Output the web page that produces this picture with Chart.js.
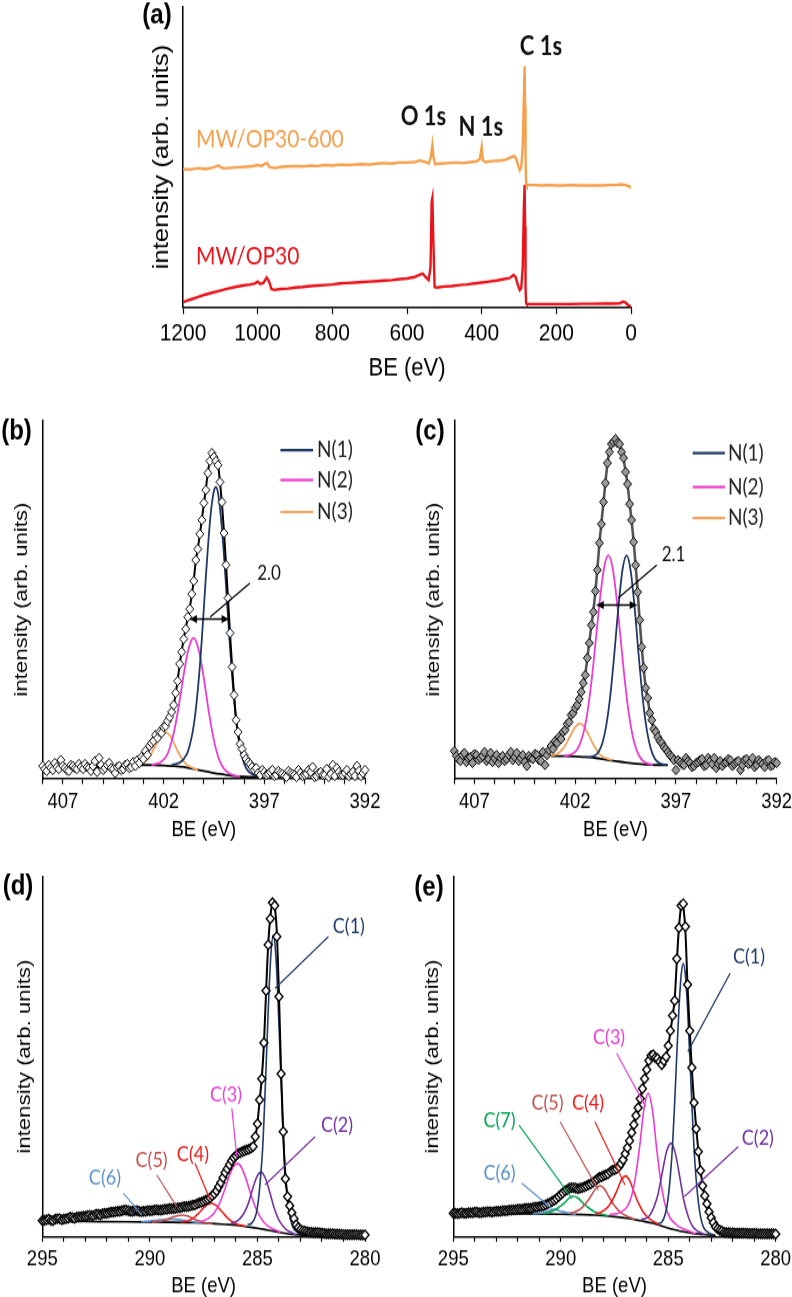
<!DOCTYPE html>
<html>
<head>
<meta charset="utf-8">
<script src="https://cdn.jsdelivr.net/npm/chart.js@4"></script>
<style>
  html, body { margin: 0; padding: 0; background: #fff; overflow: hidden; width: 792px; height: 1297px; }
  .panel { position: absolute; transform-origin: 0 0; transform: scaleY(1.17); }
  canvas { display: block; }
</style>
</head>
<body>
<div class="panel" style="left:0;top:0"><canvas id="ca" width="792" height="335"></canvas></div>
<div class="panel" style="left:0;top:395px"><canvas id="cb" width="396" height="390"></canvas></div>
<div class="panel" style="left:396px;top:395px"><canvas id="cc" width="396" height="390"></canvas></div>
<div class="panel" style="left:0;top:850px"><canvas id="cd" width="396" height="400"></canvas></div>
<div class="panel" style="left:396px;top:850px"><canvas id="ce" width="396" height="400"></canvas></div>
<script>
// ---- (a) survey spectra: [BE eV, intensity] ----
const surveyOP30_600 = [[1200,138],[1180,137.5],[1160,139],[1140,138],[1120,139.5],[1105,141.5],[1095,139],[1080,139],[1060,139.5],[1040,140],[1020,140.5],[1000,142],[990,141],[980,143.5],[975,144],[968,140],[955,139],[940,140],[920,140.5],[900,141],[880,140.5],[860,141.5],[840,141],[820,142],[800,141.5],[780,142.5],[760,142],[740,142.5],[720,143],[700,142.5],[680,143.5],[660,144],[640,143.5],[620,144.5],[600,144.5],[580,145],[565,146.5],[550,145],[542,143.5],[536,150],[532,162],[529,150],[525,143],[510,143.5],[490,144],[470,144.5],[450,144],[430,145],[415,145.5],[405,148],[400,160],[397,147],[390,145],[370,146],[350,146.5],[335,147.5],[320,150],[313,151],[307,148],[302,141],[298,137],[294,140],[290,160],[287,210],[285,241],[283.5,200],[282.5,150],[281,124],[279,122],[260,122],[240,121.5],[220,122],[200,121.5],[180,121.5],[160,122],[140,121.5],[120,121.5],[100,121.5],[80,121.5],[60,122],[40,122],[25,122.7],[15,122],[5,120.5],[0,119.7]];
const surveyOP30 = [[1200,5],[1180,7.5],[1160,10],[1140,12.5],[1120,14.5],[1100,16.5],[1080,18.5],[1060,20],[1040,21.5],[1020,22.5],[1008,23.5],[1000,25.5],[993,23],[985,24],[976,29.5],[970,26],[963,18],[955,17],[940,18],[920,18.5],[900,19.5],[880,20],[860,21],[840,21.5],[820,22],[800,22.5],[780,23.5],[760,24],[740,24.5],[720,25],[700,25.5],[680,26],[660,26.5],[640,27],[620,28],[600,28.5],[580,30],[565,32.5],[558,33.5],[550,30],[542,27],[537,40],[534,105],[532,109],[529,60],[526,20],[520,19.5],[500,20.5],[480,21],[460,22],[440,22.5],[420,23.5],[400,24.5],[380,25.5],[360,26.5],[340,28],[325,29],[315,32],[309,30],[303,22],[298,17],[294,19],[290,40],[287,100],[285,122],[283.5,80],[282.5,20],[281,4],[279,3],[250,3],[220,3],[190,3],[160,3],[130,3.2],[100,3.2],[70,3.4],[50,3.4],[30,3.6],[22,5.5],[15,4.5],[8,2],[3,1],[0,0.5]];
const surveyTicks = [0, 200, 400, 600, 800, 1000, 1200];

// ---- (b) N 1s, MW/OP30 ----
const n1sB_pts = [[408,13],[407.9,10],[407.8,8],[407.7,14],[407.6,11],[407.5,9],[407.4,16],[407.3,12],[407.2,10],[407.1,19],[407,13],[406.9,11],[406.8,9],[406.7,8],[406.6,14],[406.5,13],[406.4,11],[406.3,10],[406.2,15],[406.1,12],[406,10],[405.9,15],[405.8,12],[405.7,11],[405.6,8],[405.5,13],[405.4,18],[405.3,7],[405.2,21],[405.1,14],[405,9],[404.9,11],[404.8,14],[404.7,16],[404.6,11],[404.5,10],[404.4,6],[404.3,12],[404.2,13],[404.1,9],[404,10],[403.9,14],[403.8,15],[403.7,11],[403.6,12],[403.5,17],[403.4,13],[403.3,19],[403.2,16],[403.1,22],[403,20],[402.9,28],[402.8,24],[402.7,33],[402.6,36],[402.5,38],[402.4,44],[402.3,41],[402.2,47],[402.1,46],[402,52],[401.9,53],[401.8,58],[401.7,62],[401.6,67],[401.5,74],[401.4,86],[401.3,98],[401.2,115],[401.1,127],[401,140],[400.9,150],[400.8,162],[400.7,170],[400.6,185],[400.5,198],[400.4,219],[400.3,230],[400.2,245],[400.1,259],[400,276],[399.9,289],[399.8,306],[399.7,318],[399.6,326],[399.5,322],[399.4,318],[399.3,314],[399.2,297],[399.1,277],[399,246],[398.9,214],[398.8,181],[398.7,146],[398.6,112],[398.5,84],[398.4,59],[398.3,47],[398.2,35],[398.1,30],[398,24],[397.9,20],[397.8,17],[397.7,15],[397.6,12],[397.5,9],[397.4,11],[397.3,6],[397.2,4],[397.1,9],[397,7],[396.9,4],[396.8,5],[396.7,7],[396.6,9],[396.5,3],[396.4,4],[396.3,8],[396.2,6],[396.1,5],[396,3],[395.9,2],[395.8,8],[395.7,6],[395.6,5],[395.5,4],[395.4,2],[395.3,9],[395.2,6],[395.1,3],[395,4],[394.9,5],[394.8,9],[394.7,7],[394.6,12],[394.5,2],[394.4,3],[394.3,6],[394.2,7],[394.1,4],[394,4],[393.9,10],[393.8,2],[393.7,5],[393.6,14],[393.5,3],[393.4,11],[393.3,7],[393.2,4],[393.1,4],[393,6],[392.9,9],[392.8,3],[392.7,5],[392.6,7],[392.5,3],[392.4,13],[392.3,8],[392.2,3],[392.1,6],[392,9]];
const n1sB_fit = [[408,12],[406,12],[404,12.5],[403.5,14],[403.2,17],[403,20],[402.8,27],[402.6,35],[402.4,42],[402.2,46],[402,50],[401.8,57],[401.6,64],[401.5,73],[401.4,85],[401.3,99],[401.2,114],[401.1,128],[401,140],[400.9,151],[400.8,161],[400.7,171],[400.6,184],[400.5,199],[400.4,218],[400.3,231],[400.2,244],[400.1,260],[400,275],[399.9,290],[399.8,307],[399.7,318],[399.6,325],[399.5,324],[399.4,320],[399.3,315],[399.2,297],[399.1,275],[399,247],[398.9,215],[398.8,180],[398.7,145],[398.6,113],[398.5,84],[398.4,60],[398.3,45],[398.2,36],[398,25],[397.8,18],[397.6,13],[397.4,10],[397.2,8],[397,6],[396.5,5],[396,4.5],[395,4],[394,4],[393,4],[392,4]];
const n1sB_N1 = [[401.6,14],[401.4,15],[401.2,16.5],[401,20],[400.8,27],[400.6,42.5],[400.5,54],[400.4,69.5],[400.3,89],[400.2,112.5],[400.1,140],[400,171],[399.9,202.5],[399.8,231],[399.7,256.7],[399.6,276],[399.5,288],[399.41,292],[399.3,286.6],[399.2,271],[399.1,250],[399,223.5],[398.9,193],[398.8,162],[398.7,131.6],[398.6,104],[398.5,80],[398.4,60],[398.2,30.5],[398,15.3],[397.8,8],[397.6,5],[397.4,3],[397.2,2]];
const n1sB_N2 = [[402.6,14.3],[402.4,15],[402.2,16.3],[402,19.3],[401.8,25.3],[401.6,37.4],[401.4,55.3],[401.2,78.6],[401,104.6],[400.8,126.5],[400.6,139.5],[400.5,141],[400.4,138.5],[400.2,124],[400,100.6],[399.8,73.3],[399.6,48.9],[399.4,30.2],[399.2,17.3],[399,10.3],[398.8,6.4],[398.6,4.3],[398.4,3.1],[398.2,2.5]];
const n1sB_N3 = [[403.3,14.5],[403.1,15.5],[402.9,17.8],[402.7,22.3],[402.5,29.3],[402.3,37.5],[402.1,44.4],[401.9,47],[401.7,44],[401.5,36.7],[401.3,28],[401.1,20.6],[400.9,15.3],[400.7,12.5],[400.5,10.5],[400.3,9]];
const n1sB_bg = [[403.2,14],[402.5,14],[402,13.5],[401.5,13],[401,12],[400.5,10],[400,8],[399.5,6],[399,4.5],[398.5,3],[398,2.3],[397.5,2],[397.1,2]];

// ---- (c) N 1s, MW/OP30-600 ----
const n1sC_pts = [[408,28],[407.9,23],[407.8,20],[407.7,18],[407.6,24],[407.5,26],[407.4,17],[407.3,21],[407.2,22],[407.1,16],[407,25],[406.9,24],[406.8,19],[406.7,21],[406.6,23],[406.5,27],[406.4,18],[406.3,20],[406.2,26],[406.1,17],[406,21],[405.9,24],[405.8,16],[405.7,21],[405.6,23],[405.5,18],[405.4,20],[405.3,24],[405.2,27],[405.1,19],[405,22],[404.9,26],[404.8,18],[404.7,21],[404.6,24],[404.5,17],[404.4,13],[404.3,23],[404.2,21],[404.1,20],[404,25],[403.9,24],[403.8,19],[403.7,18],[403.6,27],[403.5,14],[403.4,24],[403.3,29],[403.2,33],[403.1,30],[403,38],[402.9,36],[402.8,42],[402.7,40],[402.6,47],[402.5,49],[402.4,55],[402.3,57],[402.2,64],[402.1,66],[402,71],[401.9,74],[401.8,80],[401.7,87],[401.6,96],[401.5,104],[401.4,121],[401.3,136],[401.2,154],[401.1,167],[401,188],[400.9,209],[400.8,236],[400.7,255],[400.6,277],[400.5,296],[400.4,316],[400.3,327],[400.2,335],[400.1,337],[400,340],[399.9,336],[399.8,335],[399.7,327],[399.6,321],[399.5,307],[399.4,295],[399.3,275],[399.2,259],[399.1,237],[399,214],[398.9,187],[398.8,159],[398.7,132],[398.6,111],[398.5,91],[398.4,81],[398.3,66],[398.2,59],[398.1,50],[398,47],[397.9,42],[397.8,38],[397.7,36],[397.6,32],[397.5,30],[397.4,27],[397.3,24],[397.2,22],[397.1,19],[397,9],[396.9,19],[396.8,17],[396.7,15],[396.6,14],[396.5,21],[396.4,18],[396.3,16],[396.2,12],[396.1,13],[396,16],[395.9,17],[395.8,19],[395.7,20],[395.6,13],[395.5,14],[395.4,21],[395.3,18],[395.2,15],[395.1,21],[395,11],[394.9,15],[394.8,18],[394.7,13],[394.6,16],[394.5,17],[394.4,20],[394.3,19],[394.2,13],[394.1,15],[394,17],[393.9,18],[393.8,9],[393.7,14],[393.6,19],[393.5,20],[393.4,15],[393.3,17],[393.2,21],[393.1,12],[393,14],[392.9,19],[392.8,17],[392.7,15],[392.6,12],[392.5,18],[392.4,19],[392.3,13],[392.2,14],[392.1,17],[392,16]];
const n1sC_fit = [[408,22],[406,22],[404,23],[403.6,24],[403.4,27],[403.2,32],[403,37],[402.8,41],[402.6,46],[402.4,54],[402.2,63],[402,70],[401.8,79],[401.7,86],[401.6,95],[401.5,105],[401.4,120],[401.3,137],[401.2,153],[401.1,168],[401,187],[400.9,210],[400.8,235],[400.7,256],[400.6,276],[400.5,297],[400.4,315],[400.3,328],[400.2,334],[400.1,338],[400,339],[399.9,338],[399.8,334],[399.7,328],[399.6,320],[399.5,308],[399.4,294],[399.3,276],[399.2,258],[399.1,238],[399,213],[398.9,188],[398.8,158],[398.7,133],[398.6,110],[398.5,92],[398.4,80],[398.3,67],[398.2,58],[398.1,51],[398,46],[397.8,39],[397.6,33],[397.4,28],[397.2,23],[397,19],[396.5,16],[396,15],[394,15],[392,15]];
const n1sC_N1 = [[401.45,22],[401.25,22.1],[401.05,23.2],[400.85,26.8],[400.65,36],[400.45,54.5],[400.25,85],[400.05,127],[399.85,173],[399.65,209.7],[399.45,223.5],[399.25,208.7],[399.05,171.2],[398.85,124],[398.65,80.7],[398.45,49.5],[398.25,30.3],[398.05,20.3],[397.85,16.2],[397.65,14.6],[397.45,14]];
const n1sC_N2 = [[402.55,23.2],[402.35,23.8],[402.15,25],[401.95,28.3],[401.75,35.8],[401.55,49.5],[401.35,72.5],[401.15,105],[400.95,144.8],[400.75,183.7],[400.55,213],[400.35,223.5],[400.15,212],[399.95,181.4],[399.75,141.3],[399.55,100.8],[399.35,67],[399.15,43.3],[398.95,28.8],[398.75,20.8],[398.55,16.8],[398.35,15.2],[398.15,14.2]];
const n1sC_N3 = [[403.36,23.2],[403.16,23.6],[402.96,24.6],[402.76,27.1],[402.56,31.7],[402.36,38.6],[402.16,46.5],[401.96,52.9],[401.76,55.3],[401.56,52.4],[401.36,45.4],[401.16,36.9],[400.96,29.7],[400.76,24.4],[400.56,21.6],[400.36,20.1],[400.16,19]];
const n1sC_bg = [[403.2,23],[402.5,23],[402,22.5],[401.5,22],[401,21],[400.5,19.5],[400,18],[399.5,16.5],[399,15.3],[398.5,14.5],[398,14],[397.4,14]];

// ---- (d) C 1s, MW/OP30 ----
const c1sD_pts = [[295,16],[294.9,16.5],[294.8,17],[294.7,17.5],[294.6,16.5],[294.5,16],[294.4,17.5],[294.3,18],[294.2,18],[294.1,17],[294,17.5],[293.9,18],[293.8,18.5],[293.7,19.5],[293.6,19],[293.5,18.5],[293.4,19.5],[293.3,20],[293.2,20],[293.1,20.5],[293,20.5],[292.9,21],[292.8,21.5],[292.7,21],[292.6,21.5],[292.5,22.5],[292.4,22.5],[292.3,22],[292.2,23],[292.1,23.5],[292,23.5],[291.9,24],[291.8,24.5],[291.7,24.5],[291.6,25],[291.5,25.5],[291.4,25.5],[291.3,26],[291.2,26.5],[291.1,26.5],[291,26],[290.9,25.5],[290.8,25.5],[290.7,26],[290.6,26],[290.5,25.5],[290.4,25],[290.3,25.5],[290.2,25.5],[290.1,26],[290,26],[289.9,26],[289.8,26.5],[289.7,27],[289.6,26.5],[289.5,26.5],[289.4,27],[289.3,27.5],[289.2,27.5],[289.1,28],[289,28],[288.9,28],[288.8,28.5],[288.7,29],[288.6,29],[288.5,29.5],[288.4,30],[288.3,30],[288.2,30.5],[288.1,31],[288,31.5],[287.9,32],[287.8,33],[287.7,34],[287.6,34.5],[287.5,35.5],[287.4,36.5],[287.3,37.5],[287.2,39],[287.1,41],[287,43],[286.9,46],[286.8,50],[286.7,54],[286.6,59],[286.5,64],[286.4,68],[286.3,72],[286.2,76],[286.1,79],[286,81],[285.9,83],[285.8,84],[285.7,85],[285.6,86],[285.5,87],[285.4,87.5],[285.3,88.5],[285.2,90],[285.1,100],[285,113],[284.9,137],[284.8,158],[284.7,194],[284.6,246],[284.5,292],[284.4,318],[284.3,334],[284.2,331],[284.1,300],[284,240],[283.9,163],[283.8,105],[283.7,58],[283.6,40],[283.5,31],[283.4,24],[283.3,18],[283.2,12],[283.1,9],[283,7],[282.9,6],[282.8,5.5],[282.7,5],[282.6,4.5],[282.5,4.5],[282.4,4],[282.3,4],[282.2,4],[282.1,3.8],[282,3.5],[281.9,3.3],[281.8,3],[281.7,3],[281.6,3],[281.5,2.8],[281.4,2.5],[281.3,2.5],[281.2,2.5],[281.1,2.3],[281,2.2],[280.9,2.1],[280.8,2],[280.7,2],[280.6,2],[280.5,2],[280.4,2],[280.3,1.9],[280.2,1.8],[280.1,1.8],[280,1.8]];
const c1sD_fit = [[295,16],[294.5,17],[294,17.8],[293.5,19.2],[293,20.5],[292.5,22],[292,23.5],[291.5,25],[291,26],[290.5,25.5],[290,26],[289.5,26.8],[289,28],[288.5,29.5],[288,31.5],[287.7,34],[287.4,36.5],[287.2,39],[287,43],[286.8,50],[286.6,59],[286.4,68],[286.2,76],[286,81],[285.8,84],[285.6,86],[285.4,87.5],[285.2,90],[285.1,100],[285,113],[284.9,136],[284.8,158],[284.7,192],[284.6,244],[284.5,292],[284.4,320],[284.3,334],[284.2,330],[284.1,305],[284,243],[283.9,165],[283.8,103],[283.7,58],[283.6,41],[283.5,31],[283.4,24],[283.3,17.5],[283.2,12],[283,7],[282.8,5],[282.5,4.2],[282,3.5],[281.5,2.8],[281,2.3],[280.5,2],[280,1.8]];
const c1sD_C1 = [[285.46,12],[285.26,13.6],[285.06,22.7],[284.96,35.7],[284.86,58],[284.76,87.5],[284.66,135.5],[284.56,191.6],[284.46,246.4],[284.36,286.8],[284.26,301.5],[284.16,286.2],[284.06,245.3],[283.96,189.8],[283.86,133],[283.76,84.3],[283.66,54.1],[283.56,31.2],[283.46,17.6],[283.36,10],[283.26,6.4],[283.06,3.3],[282.86,1.6]];
const c1sD_C2 = [[286.23,13.3],[286.03,14.5],[285.83,17.7],[285.63,23.4],[285.43,32.9],[285.23,47.3],[285.03,59.8],[284.83,64.5],[284.63,58.5],[284.43,44.8],[284.23,29.2],[284.03,18.1],[283.83,11.1],[283.63,6.5],[283.43,4.3],[283.23,2.1]];
const c1sD_C3 = [[287.73,15],[287.53,15.9],[287.33,17.7],[287.13,20.8],[286.93,26.5],[286.73,35],[286.53,46.5],[286.33,59.6],[286.13,69.7],[285.93,73.3],[285.73,68.8],[285.53,57.8],[285.33,43.8],[285.13,31.5],[284.93,22],[284.73,15.2],[284.53,11],[284.33,8.2],[284.13,6.3],[283.93,4.3]];
const c1sD_C4 = [[288.53,14.7],[288.33,15.3],[288.13,16.8],[287.93,19.5],[287.73,23.5],[287.53,28.2],[287.33,32],[287.13,33.4],[286.93,31.5],[286.73,27.2],[286.53,22.1],[286.33,17.6],[286.13,14.4],[285.93,12.4],[285.73,11.3],[285.53,10.2]];
const c1sD_C5 = [[289.9,14.7],[289.7,15],[289.5,15.5],[289.3,16.6],[289.1,18],[288.9,19.8],[288.7,21.1],[288.5,21.7],[288.3,21],[288.1,19.4],[287.9,17.4],[287.7,15.7],[287.5,14.4],[287.3,13.6],[287.1,13]];
const c1sD_C6 = [[290.4,14.9],[290,15.7],[289.6,16.7],[289.3,17.3],[289,17.5],[288.7,17.1],[288.4,16.3],[288,15],[287.6,13.7]];
const c1sD_bg = [[295,15.5],[293,15.2],[291,14.9],[289,14.5],[288,14],[287,13],[286.5,12.3],[286,11.5],[285.5,10],[285,8.5],[284.5,6.5],[284,4.5],[283.5,2.7],[283.2,2],[283,1.7],[282.7,1.5]];

// ---- (e) C 1s, MW/OP30-600 ----
const c1sE_pts = [[295,23.5],[294.9,23.5],[294.8,23],[294.7,23.5],[294.6,24],[294.5,23.5],[294.4,23.5],[294.3,24],[294.2,24],[294.1,24],[294,24.5],[293.9,24.5],[293.8,24],[293.7,24],[293.6,24.5],[293.5,24.5],[293.4,25],[293.3,25],[293.2,24.5],[293.1,25],[293,25.5],[292.9,25.5],[292.8,25.5],[292.7,26],[292.6,26],[292.5,26],[292.4,26.5],[292.3,26.5],[292.2,27],[292.1,27],[292,27.5],[291.9,27.5],[291.8,27.5],[291.7,28],[291.6,28.5],[291.5,28.5],[291.4,28.5],[291.3,29],[291.2,29.5],[291.1,29.5],[291,30],[290.9,30.5],[290.8,31],[290.7,32],[290.6,33],[290.5,34],[290.4,35.5],[290.3,36.5],[290.2,38],[290.1,40],[290,42],[289.9,44],[289.8,46],[289.7,47],[289.6,48.5],[289.5,49],[289.4,49],[289.3,48.5],[289.2,48],[289.1,48.5],[289,49],[288.9,50],[288.8,51],[288.7,52],[288.6,53],[288.5,54.5],[288.4,56],[288.3,58],[288.2,59.5],[288.1,60],[288,61],[287.9,62],[287.8,63],[287.7,65],[287.6,66.5],[287.5,67],[287.4,68],[287.3,70],[287.2,73],[287.1,77],[287,83],[286.9,89],[286.8,96],[286.7,104],[286.6,112],[286.5,121],[286.4,129],[286.3,138],[286.2,148],[286.1,158],[286,167],[285.9,176],[285.8,181],[285.7,182],[285.6,179],[285.5,178],[285.4,175],[285.3,172],[285.2,176],[285.1,180],[285,191],[284.9,206],[284.8,221],[284.7,236],[284.6,278],[284.5,309],[284.4,331],[284.3,333],[284.2,310],[284.1,252],[284,206],[283.9,169],[283.8,134],[283.7,108],[283.6,85],[283.5,66],[283.4,51],[283.3,41],[283.2,33],[283.1,25],[283,19],[282.9,14],[282.8,10],[282.7,8],[282.6,6.5],[282.5,5.5],[282.4,4.5],[282.3,4.2],[282.2,4],[282.1,3.9],[282,3.8],[281.9,3.6],[281.8,3.5],[281.7,3.5],[281.6,3.5],[281.5,3.4],[281.4,3.4],[281.3,3.3],[281.2,3.3],[281.1,3.2],[281,3.2],[280.9,3.1],[280.8,3],[280.7,3],[280.6,3],[280.5,3],[280.4,2.9],[280.3,2.8],[280.2,2.8],[280.1,2.8],[280,2.7]];
const c1sE_fit = [[295,23.5],[294.5,23.8],[294,24],[293.5,24.5],[293,25],[292.5,26],[292,27.2],[291.5,28.4],[291,29.8],[290.7,32],[290.4,35],[290.2,38],[290,42],[289.8,45.5],[289.6,48],[289.4,49],[289.2,48.5],[289,49],[288.8,50.5],[288.6,53],[288.4,56.5],[288.2,59],[288,61],[287.8,63.5],[287.6,66],[287.4,68.5],[287.2,73],[287,83],[286.8,96],[286.6,112],[286.4,129],[286.2,148],[286,167],[285.9,176],[285.8,180],[285.7,181],[285.6,180],[285.5,178],[285.4,175],[285.3,173],[285.2,175],[285.1,180],[285,190],[284.9,205],[284.8,220],[284.7,238],[284.6,275],[284.5,310],[284.4,330],[284.35,333],[284.3,330],[284.2,305],[284.1,250],[284,207],[283.9,167],[283.8,135],[283.7,110],[283.6,86],[283.5,67],[283.4,52],[283.3,41],[283.2,32],[283.1,25],[283,19],[282.9,13.5],[282.8,9.5],[282.7,7],[282.5,5],[282.2,4],[281.8,3.6],[281.4,3.4],[281,3.2],[280.5,3],[280,2.7]];
const c1sE_C1 = [[285.5,12.9],[285.3,14.7],[285.1,26],[285,39.4],[284.9,60.9],[284.8,91.2],[284.7,134.6],[284.6,183.1],[284.5,228.5],[284.4,261.3],[284.3,273.2],[284.2,261],[284.1,227.6],[284,181.5],[283.9,132.4],[283.8,88.3],[283.7,57.3],[283.6,35],[283.5,20.7],[283.4,11.7],[283.3,7.3],[283.1,3.6],[282.9,1.6]];
const c1sE_C2 = [[286.27,17.3],[286.07,18],[285.87,21.1],[285.67,29.3],[285.47,43],[285.27,65.1],[285.07,85.6],[284.87,93.5],[284.67,83.5],[284.47,60.4],[284.27,35.9],[284.07,20.2],[283.87,10.5],[283.67,6],[283.47,3.8],[283.27,2]];
const c1sE_C3 = [[287.73,22.3],[287.53,22.8],[287.33,23.5],[287.13,25.6],[286.93,29.4],[286.73,38.8],[286.53,59],[286.33,90.2],[286.13,127.6],[285.93,143.5],[285.73,126],[285.53,86.5],[285.33,52.8],[285.13,30.6],[284.93,19.3],[284.73,14.1],[284.53,10.4],[284.33,8.2],[284.13,6.4],[283.93,4.6],[283.73,3]];
const c1sE_C4 = [[288.38,22.9],[288.18,24.1],[287.98,26.5],[287.78,30.4],[287.58,37.2],[287.38,46.3],[287.18,56.7],[286.98,60.7],[286.78,55.5],[286.58,43.9],[286.38,33.4],[286.18,25.2],[285.98,20.1],[285.78,16.5],[285.58,13.9],[285.38,11.4]];
const c1sE_C5 = [[289.57,23.5],[289.37,24.6],[289.17,26.6],[288.97,30.1],[288.77,35],[288.57,41.6],[288.37,48.3],[288.17,50.9],[287.97,47.8],[287.77,40.3],[287.57,33.1],[287.37,27.7],[287.17,23.6],[286.97,21],[286.77,19.2],[286.57,17.2]];
const c1sE_C6 = [[291.3,22.9],[290.9,23.6],[290.6,25.4],[290.3,27.3],[290,25.5],[289.7,23.8],[289.3,22.6]];
const c1sE_C7 = [[290.8,23.1],[290.6,24],[290.4,25.5],[290.2,27.7],[290,30.9],[289.8,34.5],[289.6,38.7],[289.4,40.3],[289.2,38.6],[289,34.3],[288.8,30.5],[288.6,27.2],[288.4,24.7],[288.2,23.1],[288,21.9],[287.8,20.9]];
const c1sE_bg = [[295,23.4],[292,23],[290,22.5],[288.4,21.7],[287.5,20],[286.9,18.4],[286.3,16],[285.7,13.4],[285.2,10],[284.65,6.7],[284.2,4.6],[283.87,3.4],[283.5,2.5],[283.1,1.7],[282.8,1.5]];

// ---- styling ----
const SANS = '"Liberation Sans", Arial, sans-serif';
const HUM = 'Lato, "Noto Sans", sans-serif';
const NAVY = '#1f3864', PINK = '#ee3cd0', ORANGE = '#f4a35e', PURPLE = '#7030a0',
      RED = '#f01818', BRICK = '#c0504d', SKY = '#5b8fc9', GREEN = '#00a550';

const pts = arr => arr.map(([x, y]) => ({x, y}));
const curve = (data, color, width) => ({data: pts(data), showLine: true, pointRadius: 0, borderColor: color, borderWidth: width, cubicInterpolationMode: 'monotone'});
const trace = (data, color, width) => ({data: pts(data), showLine: true, pointRadius: 0, borderColor: color, borderWidth: width, tension: 0});
const marks = (data, fill, bw) => ({data: pts(data), showLine: false, pointStyle: 'rectRot', pointRadius: 4, pointBorderWidth: bw, pointBorderColor: '#000', pointBackgroundColor: fill, clip: false});

// text, leader lines, arrows and legends drawn on top of the datasets
function notes(cfg) {
  return {
    id: 'notes',
    afterDatasetsDraw(chart) {
      const ctx = chart.ctx, X = v => chart.scales.x.getPixelForValue(v), Y = v => chart.scales.y.getPixelForValue(v);
      ctx.save();
      ctx.textBaseline = 'middle';
      (cfg.lines || []).forEach(l => {
        ctx.strokeStyle = l.c; ctx.lineWidth = 1.2;
        ctx.beginPath(); ctx.moveTo(X(l.a[0]), Y(l.a[1])); ctx.lineTo(X(l.b[0]), Y(l.b[1])); ctx.stroke();
      });
      (cfg.arrows || []).forEach(a => {
        const x1 = X(a.from), x2 = X(a.to), y = Y(a.y);
        ctx.strokeStyle = '#000'; ctx.fillStyle = '#000'; ctx.lineWidth = 1.5;
        ctx.beginPath(); ctx.moveTo(x1, y); ctx.lineTo(x2, y); ctx.stroke();
        [[x1, 1], [x2, -1]].forEach(([x, d]) => {
          ctx.beginPath(); ctx.moveTo(x, y); ctx.lineTo(x + d * 7, y - 3.5); ctx.lineTo(x + d * 7, y + 3.5); ctx.closePath(); ctx.fill();
        });
      });
      if (cfg.legend) {
        const g = cfg.legend;
        g.items.forEach((it, i) => {
          ctx.strokeStyle = it.c; ctx.lineWidth = 2.2;
          ctx.beginPath(); ctx.moveTo(X(g.x1), Y(g.rows[i])); ctx.lineTo(X(g.x2), Y(g.rows[i])); ctx.stroke();
          ctx.fillStyle = '#222'; ctx.font = g.font; ctx.textAlign = 'left';
          ctx.fillText(it.t, X(g.xt), Y(g.rows[i]));
        });
      }
      (cfg.texts || []).forEach(t => {
        ctx.fillStyle = t.c; ctx.font = t.f; ctx.textAlign = t.al || 'center';
        ctx.fillText(t.t, X(t.at[0]), Y(t.at[1]));
      });
      if (cfg.tag) {
        ctx.fillStyle = '#000'; ctx.font = 'bold 24px ' + SANS; ctx.textAlign = 'center';
        ctx.fillText(cfg.tag.t, cfg.tag.x, cfg.tag.y);
      }
      ctx.restore();
    }
  };
}

function build(id, o) {
  return new Chart(document.getElementById(id), {
    type: 'scatter',
    data: {datasets: o.datasets},
    options: {
      responsive: false, animation: false, events: [],
      layout: {padding: o.pad, autoPadding: false},
      plugins: {legend: {display: false}, tooltip: {enabled: false}},
      scales: {
        x: {
          type: 'linear', reverse: true, min: o.xmin, max: o.xmax,
          afterFit: s => { s.height = o.xh; s.paddingLeft = 0; s.paddingRight = 0; },
          border: {display: true, color: '#000', width: 1.5},
          grid: {display: true, drawOnChartArea: false, drawTicks: true, tickLength: o.tl, tickColor: '#000', tickWidth: 1.2},
          ticks: {stepSize: o.step, autoSkip: false, maxRotation: 0, padding: o.tpad, color: '#000', font: {family: SANS, size: o.tfs}, callback: o.fmt},
          title: {display: true, text: 'BE (eV)', color: '#000', font: {family: SANS, size: o.xfs}, padding: 0}
        },
        y: {
          type: 'linear', min: 0, max: o.ymax,
          afterFit: s => { s.width = o.yw; s.paddingTop = 0; s.paddingBottom = 0; },
          border: {display: true, color: '#000', width: 1.5},
          grid: {display: false},
          ticks: {display: false},
          title: {display: true, text: 'intensity (arb. units)', color: '#000', font: {family: SANS, size: o.yfs}, padding: {top: o.ytp, bottom: 0}}
        }
      }
    },
    plugins: [notes(o.notes)]
  });
}

// (a)
build('ca', {
  datasets: [trace(surveyOP30_600, '#f5a04c', 2.4), trace(surveyOP30, '#e8141b', 2.4)],
  pad: {left: 135, top: 6, right: 161, bottom: 7.3}, yw: 48, ytp: 13.8, yfs: 22,
  xmin: 0, xmax: 1200, step: 200, fmt: v => surveyTicks.includes(v) ? String(v) : '',
  xh: 65.3, tl: 6, tpad: 4.5, tfs: 21, xfs: 22, ymax: 300,
  notes: {
    texts: [
      {t: 'C 1s', at: [241, 260], f: 'bold 22px ' + HUM, c: '#111'},
      {t: 'O 1s', at: [556, 190], f: 'bold 22px ' + HUM, c: '#111'},
      {t: 'N 1s', at: [402, 180], f: 'bold 22px ' + HUM, c: '#111'},
      {t: 'MW/OP30-600', at: [1165, 168], f: '21px ' + HUM, c: '#f5a04c', al: 'left'},
      {t: 'MW/OP30', at: [1165, 50], f: '21px ' + HUM, c: '#e8141b', al: 'left'}
    ],
    tag: {t: '(a)', x: 157, y: 13.7}
  }
});

const nLabel = v => ((408 - v) % 5 === 1 ? String(v) : '');
const cLabel = v => (v % 5 === 0 ? String(v) : '');
const nItems = [{t: 'N(1)', c: NAVY}, {t: 'N(2)', c: PINK}, {t: 'N(3)', c: ORANGE}];

// (b)
build('cb', {
  datasets: [marks(n1sB_pts, '#fff', 1), curve(n1sB_fit, '#000', 2), curve(n1sB_N1, NAVY, 1.8),
             curve(n1sB_N2, PINK, 1.8), curve(n1sB_N3, ORANGE, 1.8), curve(n1sB_bg, '#000', 1.8)],
  pad: {left: 0, top: 21.4, right: 31, bottom: 7.1}, yw: 42.7, ytp: 10.6, yfs: 19,
  xmin: 392, xmax: 408, step: 1, fmt: nLabel,
  xh: 54.7, tl: 4.3, tpad: 4.3, tfs: 18.5, xfs: 18.5, ymax: 359,
  notes: {
    lines: [{a: [397.71, 196], b: [399.69, 162], c: '#000'}],
    arrows: [{from: 400.69, to: 398.77, y: 160}],
    texts: [{t: '2.0', at: [396.76, 206], f: '17px ' + HUM, c: '#111'}],
    legend: {x1: 396.2, x2: 394.58, xt: 394.38, rows: [329, 299, 267], items: nItems, font: '19px ' + HUM},
    tag: {t: '(b)', x: 16.5, y: 31.6}
  }
});

// (c)
build('cc', {
  datasets: [marks(n1sC_pts, '#9a9a9a', 1), curve(n1sC_fit, '#555', 2.6), curve(n1sC_N1, NAVY, 1.8),
             curve(n1sC_N2, PINK, 1.8), curve(n1sC_N3, ORANGE, 1.8), curve(n1sC_bg, '#000', 1.8)],
  pad: {left: 0, top: 21.4, right: 15.3, bottom: 7.1}, yw: 58.3, ytp: 26.1, yfs: 19,
  xmin: 392, xmax: 408, step: 1, fmt: nLabel,
  xh: 54.7, tl: 4.3, tpad: 4.3, tfs: 18.5, xfs: 18.5, ymax: 359,
  notes: {
    lines: [{a: [397.95, 214], b: [399.86, 181], c: '#000'}],
    arrows: [{from: 400.93, to: 398.95, y: 174}],
    texts: [{t: '2.1', at: [397.12, 224], f: '17px ' + HUM, c: '#111'}],
    legend: {x1: 396.17, x2: 394.57, xt: 394.42, rows: [326, 292, 261], items: nItems, font: '19px ' + HUM},
    tag: {t: '(c)', x: 34, y: 31.6}
  }
});

const cf = '18px ' + HUM;
// (d)
build('cd', {
  datasets: [marks(c1sD_pts, '#fff', 1.4), curve(c1sD_fit, '#000', 2), curve(c1sD_C1, NAVY, 1.6),
             curve(c1sD_C2, PURPLE, 1.6), curve(c1sD_C3, PINK, 1.6), curve(c1sD_C4, RED, 1.6),
             curve(c1sD_C5, BRICK, 1.6), curve(c1sD_C6, SKY, 1.6), curve(c1sD_bg, '#000', 1.6)],
  pad: {left: 0, top: 22.8, right: 31, bottom: 15.7}, yw: 42.3, ytp: 13.6, yfs: 19,
  xmin: 280, xmax: 295, step: 1, fmt: cLabel,
  xh: 53.8, tl: 4.3, tpad: 4.5, tfs: 18.5, xfs: 18.5, ymax: 360,
  notes: {
    lines: [
      {a: [281.7, 300], b: [284.18, 248.4], c: NAVY},
      {a: [282.32, 100], b: [284.65, 51.7], c: PURPLE},
      {a: [286.19, 128.4], b: [285.96, 80], c: PINK},
      {a: [287.9, 73.4], b: [287.2, 36.7], c: RED},
      {a: [289.68, 61.7], b: [288.75, 30], c: BRICK},
      {a: [291.23, 43.4], b: [290.38, 21.7], c: SKY}
    ],
    texts: [
      {t: 'C(1)', at: [280.75, 310], f: cf, c: NAVY},
      {t: 'C(2)', at: [281.3, 111.7], f: cf, c: PURPLE},
      {t: 'C(3)', at: [286.46, 141.7], f: cf, c: PINK},
      {t: 'C(4)', at: [288.0, 81.7], f: cf, c: RED},
      {t: 'C(5)', at: [289.92, 76.7], f: cf, c: BRICK},
      {t: 'C(6)', at: [292.09, 58.7], f: cf, c: SKY}
    ],
    tag: {t: '(d)', x: 18, y: 31.6}
  }
});

// (e)
build('ce', {
  datasets: [marks(c1sE_pts, '#fff', 1.4), curve(c1sE_fit, '#000', 2), curve(c1sE_C1, NAVY, 1.6),
             curve(c1sE_C2, PURPLE, 1.6), curve(c1sE_C3, PINK, 1.6), curve(c1sE_C4, RED, 1.6),
             curve(c1sE_C5, BRICK, 1.6), curve(c1sE_C7, GREEN, 1.6), curve(c1sE_C6, SKY, 1.6),
             curve(c1sE_bg, '#000', 1.6)],
  pad: {left: 0, top: 22.8, right: 16.3, bottom: 15.7}, yw: 57.3, ytp: 25.1, yfs: 19,
  xmin: 280, xmax: 295, step: 1, fmt: cLabel,
  xh: 53.8, tl: 4.3, tpad: 4.5, tfs: 18.5, xfs: 18.5, ymax: 360,
  notes: {
    lines: [
      {a: [282.12, 263.4], b: [284.09, 185], c: NAVY},
      {a: [281.74, 90], b: [284.25, 40], c: PURPLE},
      {a: [287.4, 183.4], b: [286.05, 130], c: PINK},
      {a: [288.41, 115], b: [287.01, 51.7], c: RED},
      {a: [290.03, 115], b: [288.25, 46.7], c: BRICK},
      {a: [291.94, 111.7], b: [289.49, 38.4], c: GREEN},
      {a: [291.82, 53.4], b: [290.42, 28.4], c: SKY}
    ],
    texts: [
      {t: 'C(1)', at: [281.24, 280], f: cf, c: NAVY},
      {t: 'C(2)', at: [280.83, 98.7], f: cf, c: PURPLE},
      {t: 'C(3)', at: [287.75, 198.7], f: cf, c: PINK},
      {t: 'C(4)', at: [288.73, 133.7], f: cf, c: RED},
      {t: 'C(5)', at: [290.62, 133.7], f: cf, c: BRICK},
      {t: 'C(7)', at: [292.85, 116.7], f: cf, c: GREEN},
      {t: 'C(6)', at: [292.85, 63.7], f: cf, c: SKY}
    ],
    tag: {t: '(e)', x: 33, y: 32.5}
  }
});
</script>
</body>
</html>
